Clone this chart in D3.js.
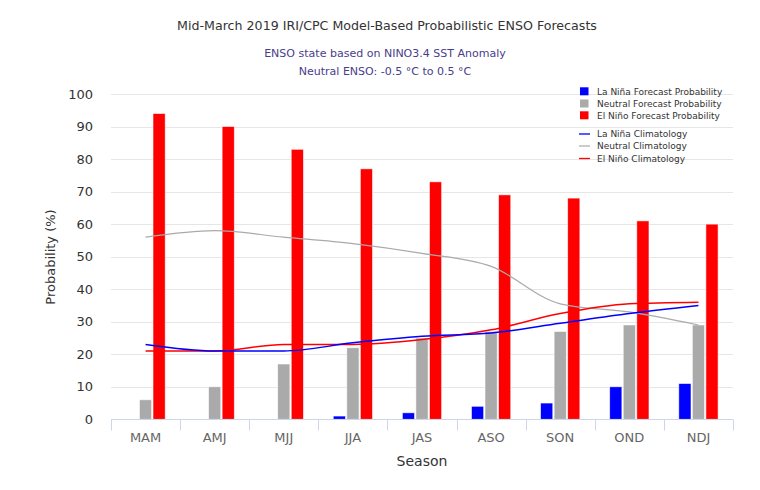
<!DOCTYPE html>
<html>
<head>
<meta charset="utf-8">
<script src="https://cdn.jsdelivr.net/npm/d3@7"></script>
<style>
  html, body { margin: 0; padding: 0; background: #fff; }
  svg { display: block; font-family: "DejaVu Sans", "Lucida Grande", Verdana, sans-serif; }
</style>
</head>
<body>
<svg id="chart" width="760" height="490"></svg>
<script>
const seasons = ["MAM", "AMJ", "MJJ", "JJA", "JAS", "ASO", "SON", "OND", "NDJ"];
const laNinaProb  = [0, 0, 0, 1, 2, 4, 5, 10, 11];
const neutralProb = [6, 10, 17, 22, 25, 27, 27, 29, 29];
const elNinoProb  = [94, 90, 83, 77, 73, 69, 68, 61, 60];
const laNinaClim  = [23, 21, 21, 23.5, 25.5, 26.5, 29.5, 32.5, 35];
const neutralClim = [56, 58, 56, 54, 51, 47, 35.5, 33, 29];
const elNinoClim  = [21, 21, 23, 23, 24.5, 27.5, 32.5, 35.5, 36];
const yTicks = [0, 10, 20, 30, 40, 50, 60, 70, 80, 90, 100];
const titleText = "Mid-March 2019 IRI/CPC Model-Based Probabilistic ENSO Forecasts";
const subtitleLines = ["ENSO state based on NINO3.4 SST Anomaly", "Neutral ENSO: -0.5 °C to 0.5 °C"];
const barLegend = ["La Niña Forecast Probability", "Neutral Forecast Probability", "El Niño Forecast Probability"];
const lineLegend = ["La Niña Climatology", "Neutral Climatology", "El Niño Climatology"];

const colors = ["#0000ff", "#aaaaaa", "#ff0000"];
const svg = d3.select("#chart");

const x = d3.scaleBand().domain(seasons).range([111, 733]).paddingInner(0).paddingOuter(0);
const y = d3.scaleLinear().domain([0, 100]).range([419.3, 94]);

function fit(sel, target) {
  const n = sel.node();
  const w = n.getComputedTextLength();
  const fs = parseFloat(sel.attr("font-size"));
  sel.attr("font-size", (fs * target / w).toFixed(2));
}

// title
const t = svg.append("text").attr("x", 387).attr("y", 30).attr("text-anchor", "middle")
  .attr("font-size", 13).attr("fill", "#333333").text(titleText);
fit(t, 420);
subtitleLines.forEach((s, i) => {
  const st = svg.append("text").attr("x", 385).attr("y", 56.5 + i * 18.5).attr("text-anchor", "middle")
    .attr("font-size", 11).attr("fill", "#483D8B").text(s);
  if (i === 0) fit(st, 242);
  else st.attr("font-size", svg.select("text:nth-of-type(2)").attr("font-size"));
});

// gridlines
svg.append("g").selectAll("line").data(yTicks).join("line")
  .attr("x1", 111).attr("x2", 733)
  .attr("y1", d => Math.round(y(d)) + 0.5).attr("y2", d => Math.round(y(d)) + 0.5)
  .attr("stroke", "#e6e6e6").attr("stroke-width", 1.2);

// y axis labels
const yAxis = d3.axisLeft(y).tickValues(yTicks).tickSize(0).tickPadding(0);
const gy = svg.append("g").attr("transform", "translate(93,0)").call(yAxis);
gy.select(".domain").remove();
gy.selectAll("text").attr("font-size", 13).attr("fill", "#333").attr("font-family", "DejaVu Sans, Lucida Grande, sans-serif");

svg.append("text").attr("transform", "translate(55,257) rotate(-90)").attr("text-anchor", "middle")
  .attr("font-size", 13).attr("fill", "#333").text("Probability (%)");

// bars
const cw = x.bandwidth();
const step = cw * 0.196;
const bw = 12.2;
const series = [laNinaProb, neutralProb, elNinoProb];
series.forEach((vals, si) => {
  svg.append("g").selectAll("rect").data(vals.map((v, i) => ({ v, s: seasons[i] }))).join("rect")
    .attr("x", d => x(d.s) + cw / 2 + (si - 1) * step - bw / 2)
    .attr("width", bw)
    .attr("y", d => y(d.v))
    .attr("height", d => y(0) - y(d.v))
    .attr("fill", colors[si])
    .attr("stroke", d => d.v > 0 ? "#ffffff" : "none")
    .attr("stroke-width", 0.8)
    .attr("stroke-opacity", 0.7);
});

// x axis
const xAxis = d3.axisBottom(x).tickSize(0).tickPadding(0);
const gx = svg.append("g").attr("transform", "translate(0,419.5)").call(xAxis);
gx.select(".domain").attr("stroke", "#ccd6eb").attr("d", "M111,0H733");
gx.selectAll("text").attr("font-size", 13).attr("fill", "#666").attr("dy", 0).attr("y", 22)
  .attr("font-family", "DejaVu Sans, Lucida Grande, sans-serif");
const bounds = seasons.map(s => x(s)).concat([x.range()[1]]);
gx.append("g").selectAll("line").data(bounds).join("line")
  .attr("x1", d => Math.round(d) + 0.5).attr("x2", d => Math.round(d) + 0.5)
  .attr("y1", 0).attr("y2", 11).attr("stroke", "#ccd6eb");

svg.append("text").attr("x", 422).attr("y", 466).attr("text-anchor", "middle")
  .attr("font-size", 14).attr("fill", "#333").text("Season");

// climatology lines
const line = d3.line().x((d, i) => x(seasons[i]) + cw / 2).y(d => y(d)).curve(d3.curveMonotoneX);
[neutralClim, elNinoClim, laNinaClim].forEach((vals, k) => {
  const c = [colors[1], colors[2], colors[0]][k];
  svg.append("path").attr("d", line(vals)).attr("fill", "none").attr("stroke", c)
    .attr("stroke-width", k === 0 ? 1.2 : 1.5);
});

// legend
const lg = svg.append("g");
const rowY = [91.3, 103.5, 115.3];
barLegend.forEach((s, i) => {
  lg.append("rect").attr("x", 580).attr("y", rowY[i] - 4).attr("width", 8.5).attr("height", 8).attr("fill", colors[i]);
  lg.append("text").attr("x", 597).attr("y", rowY[i] + 3.3).attr("font-size", 9).attr("fill", "#333").text(s);
});
const lineY = [134, 146, 158.5];
lineLegend.forEach((s, i) => {
  lg.append("line").attr("x1", 579).attr("x2", 590).attr("y1", lineY[i]).attr("y2", lineY[i])
    .attr("stroke", colors[i]).attr("stroke-width", i === 1 ? 1.2 : 1.3);
  lg.append("text").attr("x", 597).attr("y", lineY[i] + 3.3).attr("font-size", 9).attr("fill", "#333").text(s);
});
</script>
</body>
</html>
